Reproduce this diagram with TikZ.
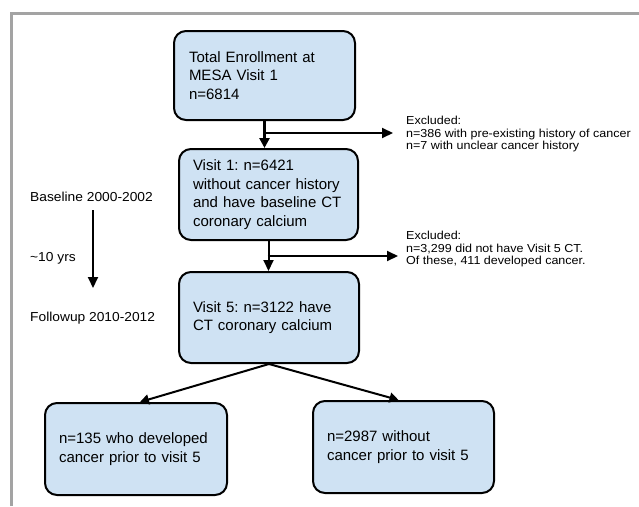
\documentclass[tikz,border=0pt]{standalone}
\usepackage{fontspec}
\setmainfont{Liberation Sans}
\newfontfamily\exclfont[FakeStretch=1.08]{Liberation Sans}
\newfontfamily\sidefont[FakeStretch=1.06]{Liberation Sans}
\usetikzlibrary{arrows.meta,calc}
\definecolor{boxfill}{HTML}{CFE2F3}
\definecolor{framegray}{HTML}{A3A3A3}
\frenchspacing
\tikzset{
  flowbox/.style={draw=black, line width=2pt, fill=boxfill, rounded corners=12pt,
    anchor=north west, align=left, inner ysep=0pt,
    font=\frenchspacing\fontsize{15}{18.7}\selectfont},
  excltext/.style={anchor=west, align=left, inner sep=0pt,
    font=\exclfont\frenchspacing\fontsize{11.6}{12.4}\selectfont},
  sidetext/.style={anchor=west, inner sep=0pt,
    font=\sidefont\fontsize{13}{15}\selectfont},
  arr/.style={line width=2pt, -{Triangle[length=11pt,width=10pt]}},
  diagarr/.style={line width=2pt, -{Triangle[length=9pt,width=10pt]}},
  thickarr/.style={line width=3pt, -{Triangle[length=10pt,width=10pt]}},
}
\begin{document}
\begin{tikzpicture}[x=1pt,y=-1pt]
\useasboundingbox (0,0) rectangle (639,506);
% frame
\draw[framegray, line width=3pt] (11.5,506) -- (11.5,13) -- (639,13);

% boxes
\node[flowbox, text width=151pt, inner xsep=15pt, minimum height=89pt] (b1) at (173,30)
  {Total Enrollment at\\MESA Visit 1\\n=6814};
\node[flowbox, text width=151pt, inner xsep=14pt, minimum height=91pt] (b2) at (178,148)
  {Visit 1: n=6421\\without cancer history\\and have baseline CT\\coronary calcium};
\node[flowbox, text width=152pt, inner xsep=14pt, minimum height=91pt] (b3) at (178,271)
  {Visit 5: n=3122 have\\CT coronary calcium};
\node[flowbox, text width=154pt, inner xsep=14pt, minimum height=92pt] (b4) at (44,402)
  {n=135 who developed\\cancer prior to visit 5};
\node[flowbox, text width=153pt, inner xsep=14pt, minimum height=92pt] (b5) at (312,400)
  {n=2987 without\\cancer prior to visit 5};

% exclusion texts
\node[excltext] (ex1) at (406,134)
  {Excluded:\\n=386 with pre-existing history of cancer\\n=7 with unclear cancer history};
\node[excltext] (ex2) at (406,249)
  {Excluded:\\n=3,299 did not have Visit 5 CT.\\Of these, 411 developed cancer.};

% side timeline
\node[sidetext] (base) at (30,197) {Baseline 2000-2002};
\node[sidetext] (yrs) at (30,258) {\textasciitilde10 yrs};
\node[sidetext] (fol) at (30,318) {Followup 2010-2012};
\coordinate (tA) at (93,210);
\coordinate (tB) at (93,288);
\draw[arr] (tA) -- (tB);

% main flow
\draw[thickarr] (b1.south) -- (b1.south |- b2.north);
\coordinate (j1) at (264,133);
\draw[arr, shorten >=13pt] (j1) -- (j1 -| ex1.west);

\draw[arr] (b2.south) -- (b2.south |- b3.north);
\coordinate (j2) at (267.5,256);
\draw[arr, shorten >=8pt] (j2) -- (j2 -| ex2.west);

\draw[diagarr] (b3.south) -- ($(b4.north)+(4,0)$);
\draw[diagarr] (b3.south) -- ($(b5.north)+(-5,0)$);
\end{tikzpicture}
\end{document}
